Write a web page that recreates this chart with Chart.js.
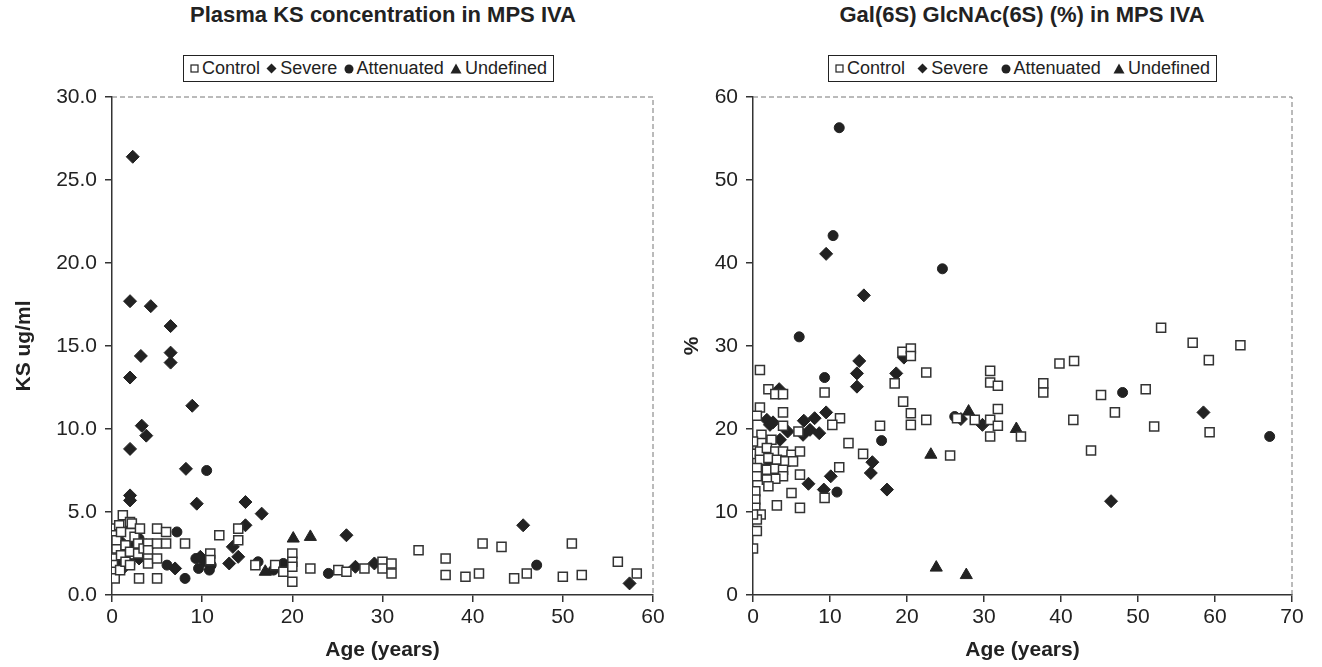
<!DOCTYPE html>
<html>
<head>
<meta charset="utf-8">
<script src="https://cdn.jsdelivr.net/npm/chart.js@4.4.1/dist/chart.umd.min.js"></script>
<style>
  body { margin: 0; background: #fff; font-family: "Liberation Sans", Arial, sans-serif; color: #222; }
  #wrap { position: relative; width: 1322px; height: 667px; overflow: hidden; }
  canvas { position: absolute; top: 0; }
  .title { position: absolute; top: 2px; font-weight: bold; font-size: 22px; white-space: nowrap; transform: translateX(-50%); }
  .legend { position: absolute; top: 55px; height: 27px; border: 1px solid #222; box-sizing: border-box;
            display: flex; align-items: center; justify-content: space-between; padding: 0 6px; font-size: 18px; }
  .legend span { display: flex; align-items: center; gap: 3px; white-space: nowrap; }
</style>
</head>
<body>
<div id="wrap">
  <div class="title" style="left:383px">Plasma KS concentration in MPS IVA</div>
  <div class="title" style="left:1022px">Gal(6S) GlcNAc(6S) (%) in MPS IVA</div>
  <div class="legend" style="left:183px;width:371px" id="legend1"></div>
  <div class="legend" style="left:828px;width:389px" id="legend2"></div>
  <canvas id="ksChart" width="680" height="667" style="left:0"></canvas>
  <canvas id="galChart" width="661" height="667" style="left:661px"></canvas>
</div>
<script>
// Groups shown in both panels
const groups = ['Control', 'Severe', 'Attenuated', 'Undefined'];

// Plasma KS (ug/ml) by age (years)
const ksControl = [
  [0.1, 4.0], [0.1, 3.6], [0.1, 3.0], [0.1, 2.6], [0.1, 2.2], [0.1, 1.8], [0.1, 1.4], [0.3, 1.0],
  [0.5, 2.8], [0.5, 3.3], [0.8, 4.2], [0.9, 1.5], [1.0, 3.8], [1.0, 2.4], [1.2, 4.8], [1.5, 3.0],
  [1.5, 2.0], [2.0, 4.4], [2.0, 2.6], [2.0, 1.8], [2.2, 4.3], [2.5, 3.5], [2.9, 3.1], [2.9, 2.5],
  [3.0, 1.0], [3.1, 4.0], [3.5, 2.8], [4.0, 3.1], [4.0, 2.7], [4.0, 2.2], [4.0, 1.9], [5.0, 4.0],
  [5.0, 3.1], [5.0, 2.2], [5.0, 1.0], [6.0, 3.8], [6.0, 3.1], [8.1, 3.1], [10.9, 2.5], [10.9, 2.1],
  [11.9, 3.6], [14.0, 4.0], [14.0, 3.3], [15.9, 1.8], [18.1, 1.8], [19.0, 1.4], [20.0, 2.5], [20.0, 2.0],
  [20.0, 1.7], [20.0, 0.8], [22.0, 1.6], [25.1, 1.5], [26.0, 1.4], [28.0, 1.6], [30.0, 2.0], [30.0, 1.6],
  [31.0, 1.9], [31.0, 1.3], [34.0, 2.7], [37.0, 2.2], [37.0, 1.2], [39.2, 1.1], [40.7, 1.3], [41.1, 3.1],
  [43.2, 2.9], [44.6, 1.0], [46.0, 1.3], [50.0, 1.1], [51.0, 3.1], [52.1, 1.2], [56.1, 2.0], [58.2, 1.3]
];
const ksSevere = [
  [2.3, 26.4], [2.0, 17.7], [4.3, 17.4], [3.2, 14.4], [6.5, 16.2], [6.5, 14.6], [6.5, 14.0], [2.0, 13.1],
  [3.3, 10.2], [3.8, 9.6], [8.9, 11.4], [2.0, 8.8], [8.2, 7.6], [2.0, 6.0], [2.0, 5.7], [9.4, 5.5],
  [14.8, 5.6], [16.6, 4.9], [14.8, 4.2], [13.4, 2.9], [14.0, 2.3], [13.0, 1.9], [7.0, 1.6], [9.8, 2.3],
  [26.0, 3.6], [27.0, 1.7], [29.1, 1.9], [45.6, 4.2], [57.4, 0.7],
  [1.0, 3.2], [1.5, 2.6], [2.5, 3.0], [3.0, 2.2], [3.8, 3.0], [0.5, 1.8], [1.2, 1.6]
];
const ksAttenuated = [
  [10.5, 7.5], [7.2, 3.8], [8.1, 1.0], [6.1, 1.8], [9.3, 2.2], [9.6, 1.6], [10.3, 2.0], [10.8, 1.5],
  [11.0, 1.8], [16.2, 2.0], [17.9, 1.5], [19.0, 1.9], [24.0, 1.3], [47.1, 1.8],
  [0.2, 2.0], [1.0, 2.3], [2.0, 1.9], [3.0, 3.4], [4.2, 3.0], [0.5, 1.4]
];
const ksUndefined = [[2.0, 4.2], [17.0, 1.4], [20.1, 3.4], [22.0, 3.5]];

// Gal(6S) GlcNAc(6S) (%) by age (years)
const galControl = [
  [0.9, 27.1], [2.0, 24.8], [2.9, 24.2], [3.9, 24.2], [9.3, 24.4], [0.9, 22.6], [3.9, 22.0], [0.5, 21.6],
  [11.3, 21.3], [10.3, 20.5], [3.9, 20.4], [5.9, 19.7], [1.1, 19.3], [2.4, 18.7], [1.1, 18.3], [12.4, 18.3],
  [14.3, 17.0], [0.0, 18.5], [0.0, 17.0], [0.9, 17.3], [1.8, 17.7], [2.9, 17.3], [3.9, 17.3], [5.0, 16.9],
  [0.9, 16.3], [2.0, 16.5], [3.1, 16.3], [4.2, 16.1], [5.2, 16.1], [0.5, 15.3], [1.8, 15.1], [2.9, 15.2],
  [3.9, 15.1], [6.1, 17.3], [6.1, 14.5], [3.9, 14.3], [2.9, 14.0], [1.8, 13.9], [0.5, 14.3], [11.2, 15.4],
  [2.0, 13.1], [5.0, 12.3], [0.3, 12.5], [0.3, 11.5], [0.3, 10.5], [1.0, 9.7], [0.5, 9.1], [0.0, 9.7],
  [0.5, 7.7], [3.1, 10.8], [6.1, 10.5], [9.3, 11.7], [0.0, 5.6],
  [19.4, 29.3], [20.5, 29.7], [20.5, 28.8], [18.4, 25.5], [22.5, 26.8], [30.8, 27.0], [30.8, 25.6],
  [31.8, 25.2], [37.7, 25.5], [37.7, 24.4], [39.8, 27.9], [41.7, 28.2], [45.2, 24.1], [19.5, 23.3],
  [20.5, 21.9], [20.5, 20.5], [22.5, 21.1], [16.5, 20.4], [25.6, 16.8], [26.5, 21.3], [28.8, 21.1],
  [30.8, 21.1], [31.8, 22.4], [31.8, 20.4], [30.8, 19.1], [34.8, 19.1], [41.6, 21.1], [43.9, 17.4],
  [53.0, 32.2], [57.1, 30.4], [63.3, 30.1], [59.2, 28.3], [51.0, 24.8], [47.0, 22.0], [52.1, 20.3], [59.3, 19.6]
];
const galSevere = [
  [9.5, 41.1], [14.4, 36.1], [13.8, 28.2], [13.5, 26.7], [18.6, 26.7], [19.6, 28.6], [3.4, 24.8], [13.5, 25.1],
  [1.8, 21.1], [2.2, 20.5], [2.6, 20.8], [6.6, 21.0], [8.0, 21.3], [9.5, 22.0], [4.5, 19.7], [6.5, 19.3],
  [7.4, 19.9], [8.6, 19.5], [3.5, 18.7], [2.0, 16.3], [2.0, 15.3], [3.9, 15.6], [7.2, 13.4], [10.1, 14.3],
  [9.2, 12.7], [15.5, 16.0], [15.3, 14.7], [17.4, 12.7], [27.0, 21.2], [29.8, 20.5], [46.5, 11.3], [58.5, 22.0]
];
const galAttenuated = [
  [11.2, 56.3], [10.4, 43.3], [24.6, 39.3], [6.0, 31.1], [9.3, 26.2], [16.7, 18.6], [10.9, 12.4],
  [48.0, 24.4], [67.1, 19.1], [2.2, 15.5], [26.2, 21.5]
];
const galUndefined = [[23.8, 3.3], [27.7, 2.4], [23.1, 16.9], [28.0, 22.1], [34.2, 20.0]];

// Axis ranges and tick steps
const ksAxis = { xMax: 60, yMax: 30, yStep: 5 };
const galAxis = { xMax: 70, yMax: 60, yStep: 10 };

const INK = '#222';
const FONT = 'Liberation Sans';

const markerStyles = [
  { pointStyle: 'rect', pointRadius: 6.4, backgroundColor: '#fff', borderColor: '#333', borderWidth: 1.5 },
  { pointStyle: 'rectRot', pointRadius: 6.5, backgroundColor: INK, borderColor: INK, borderWidth: 1 },
  { pointStyle: 'circle', pointRadius: 5, backgroundColor: INK, borderColor: INK, borderWidth: 1 },
  { pointStyle: 'triangle', pointRadius: 7, backgroundColor: INK, borderColor: INK, borderWidth: 1 }
];

const toPoints = arr => arr.map(([x, y]) => ({ x, y }));

// Dashed frame along the top and right of the plot area
const framePlugin = {
  id: 'frame',
  beforeDatasetsDraw(chart) {
    const { ctx, chartArea: a } = chart;
    ctx.save();
    ctx.strokeStyle = '#777';
    ctx.lineWidth = 1;
    ctx.setLineDash([5, 3]);
    ctx.beginPath();
    ctx.moveTo(a.left, a.top);
    ctx.lineTo(a.right, a.top);
    ctx.lineTo(a.right, a.bottom);
    ctx.stroke();
    ctx.restore();
  }
};

function buildChart(id, seriesList, axis, yTitle, yWidth, yTitlePad, yDecimals, padRight) {
  const ctx = document.getElementById(id).getContext('2d');
  return new Chart(ctx, {
    type: 'scatter',
    data: {
      datasets: seriesList.map((s, i) => Object.assign({ label: groups[i], data: toPoints(s) }, markerStyles[i]))
    },
    options: {
      responsive: false,
      animation: false,
      layout: { padding: { top: 97, right: padRight, bottom: 0, left: 0 } },
      plugins: { legend: { display: false }, title: { display: false }, tooltip: { enabled: false } },
      scales: {
        x: {
          type: 'linear', min: 0, max: axis.xMax,
          ticks: { stepSize: 10, color: INK, font: { family: FONT, size: 21 }, padding: 3, maxRotation: 0 },
          grid: { drawOnChartArea: false, color: '#333', lineWidth: 1.5, tickLength: 7 },
          border: { color: '#333', width: 1.5 },
          title: { display: true, text: 'Age (years)', color: INK, font: { family: FONT, size: 21, weight: 'bold' }, padding: { top: 0, bottom: 4 } },
          afterFit: s => { s.height = 72; }
        },
        y: {
          type: 'linear', min: 0, max: axis.yMax,
          ticks: { stepSize: axis.yStep, color: INK, font: { family: FONT, size: 21 }, padding: 8,
                   callback: v => v.toFixed(yDecimals) },
          grid: { drawOnChartArea: false, color: '#333', lineWidth: 1.5, tickLength: 7 },
          border: { color: '#333', width: 1.5 },
          title: { display: true, text: yTitle, color: INK, font: { family: FONT, size: 21, weight: 'bold' }, padding: { top: yTitlePad, bottom: 0 } },
          afterFit: s => { s.width = yWidth; }
        }
      }
    },
    plugins: [framePlugin]
  });
}

// HTML legend boxes with small marker glyphs
const legendIcons = [
  '<svg width="9" height="9"><rect x="1" y="1" width="7" height="7" fill="#fff" stroke="#222" stroke-width="1.2"/></svg>',
  '<svg width="11" height="11"><polygon points="5.5,0.5 10.5,5.5 5.5,10.5 0.5,5.5" fill="#222"/></svg>',
  '<svg width="10" height="10"><circle cx="5" cy="5" r="4.5" fill="#222"/></svg>',
  '<svg width="12" height="11"><polygon points="6,0.5 11.5,10.5 0.5,10.5" fill="#222"/></svg>'
];
['legend1', 'legend2'].forEach(id => {
  document.getElementById(id).innerHTML = groups.map((g, i) => `<span>${legendIcons[i]}${g}</span>`).join('');
});

buildChart('ksChart', [ksControl, ksSevere, ksAttenuated, ksUndefined], ksAxis, 'KS ug/ml', 112, 12, 1, 27);
buildChart('galChart', [galControl, galSevere, galAttenuated, galUndefined], galAxis, '%', 92, 19, 0, 30);
</script>
</body>
</html>
